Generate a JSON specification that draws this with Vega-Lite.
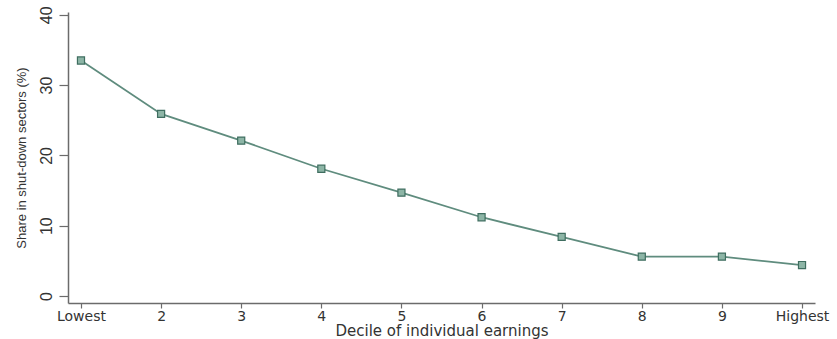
{
  "$schema": "https://vega.github.io/schema/vega-lite/v6.json",
  "width": 747,
  "height": 291,
  "autosize": {"type": "none"},
  "padding": {"left": 68, "top": 12, "right": 22, "bottom": 36},
  "background": "white",
  "config": {
    "view": {"stroke": null},
    "axis": {
      "grid": false,
      "domainColor": "#6b6b6b",
      "domainWidth": 1.5,
      "tickColor": "#6b6b6b",
      "tickWidth": 1.2,
      "labelColor": "#333333",
      "titleColor": "#333333",
      "titleFontWeight": "normal"
    }
  },
  "data": {
    "values": [
      {"decile": 1, "share": 33.5},
      {"decile": 2, "share": 25.9},
      {"decile": 3, "share": 22.1},
      {"decile": 4, "share": 18.1},
      {"decile": 5, "share": 14.7},
      {"decile": 6, "share": 11.2},
      {"decile": 7, "share": 8.4},
      {"decile": 8, "share": 5.6},
      {"decile": 9, "share": 5.6},
      {"decile": 10, "share": 4.4}
    ]
  },
  "encoding": {
    "x": {
      "field": "decile",
      "type": "quantitative",
      "scale": {"domain": [0.838, 10.162], "nice": false, "zero": false},
      "axis": {
        "values": [1, 2, 3, 4, 5, 6, 7, 8, 9, 10],
        "labelExpr": "datum.value == 1 ? 'Lowest' : datum.value == 10 ? 'Highest' : datum.label",
        "title": "Decile of individual earnings",
        "labelFont": "DejaVu Sans",
        "labelFontSize": 14,
        "labelPadding": 1,
        "labelFlush": false,
        "labelOverlap": false,
        "tickSize": 5,
        "titleFont": "DejaVu Sans",
        "titleFontSize": 15,
        "titlePadding": 0
      }
    },
    "y": {
      "field": "share",
      "type": "quantitative",
      "scale": {"domain": [-1, 40.4], "nice": false, "zero": false},
      "axis": {
        "values": [0, 10, 20, 30, 40],
        "title": "Share in shut-down sectors (%)",
        "labelAngle": -90,
        "labelAlign": "center",
        "labelBaseline": "bottom",
        "labelFont": "Liberation Sans",
        "labelFontSize": 16,
        "labelPadding": 5,
        "tickSize": 9,
        "titleFont": "Liberation Sans",
        "titleFontSize": 13,
        "titlePadding": 10
      }
    }
  },
  "layer": [
    {
      "mark": {"type": "line", "color": "#5f8c7e", "strokeWidth": 1.8}
    },
    {
      "mark": {
        "type": "point",
        "shape": "square",
        "size": 50,
        "filled": true,
        "fill": "#8db5a6",
        "stroke": "#3f6e60",
        "strokeWidth": 1.2,
        "opacity": 1
      }
    }
  ]
}
